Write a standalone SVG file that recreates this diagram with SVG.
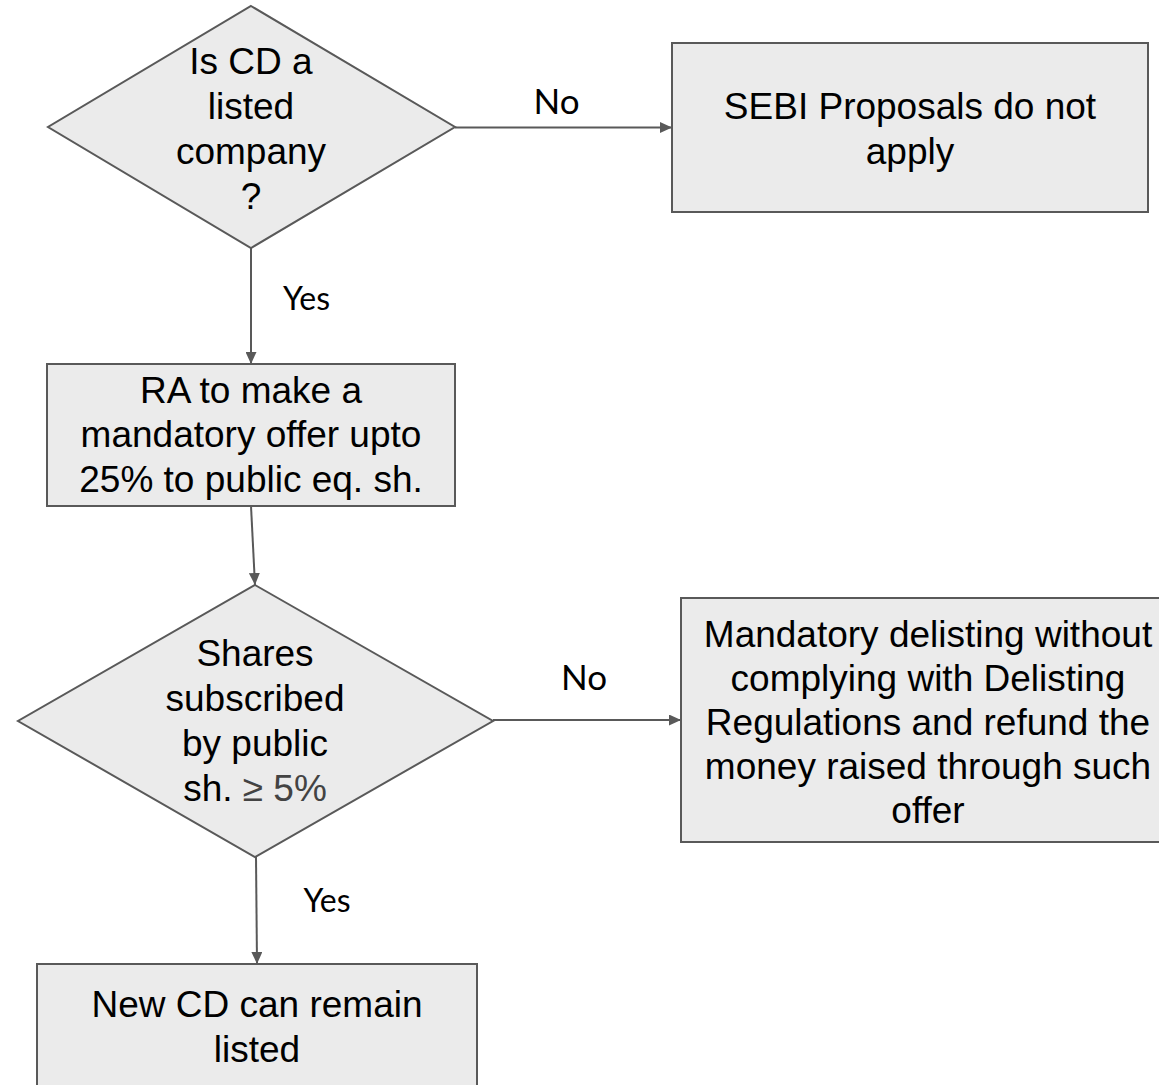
<svg xmlns="http://www.w3.org/2000/svg" width="1159" height="1085" viewBox="0 0 1159 1085">
<style>
.shape{fill:#ebebeb;stroke:#595959;stroke-width:2}
.t{font-family:"Liberation Sans",Arial,sans-serif;font-size:37px;fill:#000;text-anchor:middle}
.lbl{font-family:Lato,"Liberation Sans",sans-serif;fill:#000;text-anchor:middle}
.conn{stroke:#595959;stroke-width:2;fill:none;marker-end:url(#arr)}
.g{fill:#434343}
</style>
<defs>
<marker id="arr" markerUnits="userSpaceOnUse" markerWidth="13" markerHeight="11" refX="12" refY="5.5" orient="auto">
<path d="M0,0 L12,5.5 L0,11 z" fill="#595959"/>
</marker>
</defs>
<rect width="1159" height="1085" fill="#ffffff"/>
<g id="connectors">
<line class="conn" x1="455" y1="127.5" x2="672" y2="127.5"/>
<line class="conn" x1="251" y1="248" x2="251" y2="364"/>
<line class="conn" x1="251" y1="506" x2="255" y2="585"/>
<line class="conn" x1="493" y1="720" x2="681" y2="720"/>
<line class="conn" x1="256" y1="857" x2="257" y2="964"/>
<text class="lbl" x="556.5" y="114" font-size="35">No</text>
<text class="lbl" x="306.5" y="310" font-size="32">Yes</text>
<text class="lbl" x="584" y="690" font-size="35">No</text>
<text class="lbl" x="327" y="912" font-size="32">Yes</text>
</g>
<g id="q1">
<polygon class="shape" points="251,6 455,127 251,248 48,127"/>
<text class="t" x="251" y="74">Is CD a</text>
<text class="t" x="251" y="119">listed</text>
<text class="t" x="251" y="164">company</text>
<text class="t" x="251" y="209">?</text>
</g>
<g id="sebi">
<rect class="shape" x="672" y="43" width="476" height="169"/>
<text class="t" x="910" y="119">SEBI Proposals do not</text>
<text class="t" x="910" y="164">apply</text>
</g>
<g id="ra">
<rect class="shape" x="47" y="364" width="408" height="142"/>
<text class="t" x="251" y="403">RA to make a</text>
<text class="t" x="251" y="447">mandatory offer upto</text>
<text class="t" x="251" y="492">25% to public eq. sh.</text>
</g>
<g id="q2">
<polygon class="shape" points="255,585 493,721 255,857 18,721"/>
<text class="t" x="255" y="666">Shares</text>
<text class="t" x="255" y="711">subscribed</text>
<text class="t" x="255" y="756">by public</text>
<text class="t" x="255" y="801">sh. <tspan class="g">≥ 5%</tspan></text>
</g>
<g id="delist">
<rect class="shape" x="681" y="598" width="495" height="244"/>
<text class="t" x="928" y="647">Mandatory delisting without</text>
<text class="t" x="928" y="691">complying with Delisting</text>
<text class="t" x="928" y="735">Regulations and refund the</text>
<text class="t" x="928" y="779">money raised through such</text>
<text class="t" x="928" y="823">offer</text>
</g>
<g id="remain">
<rect class="shape" x="37" y="964" width="440" height="140"/>
<text class="t" x="257" y="1017">New CD can remain</text>
<text class="t" x="257" y="1062">listed</text>
</g>
</svg>
